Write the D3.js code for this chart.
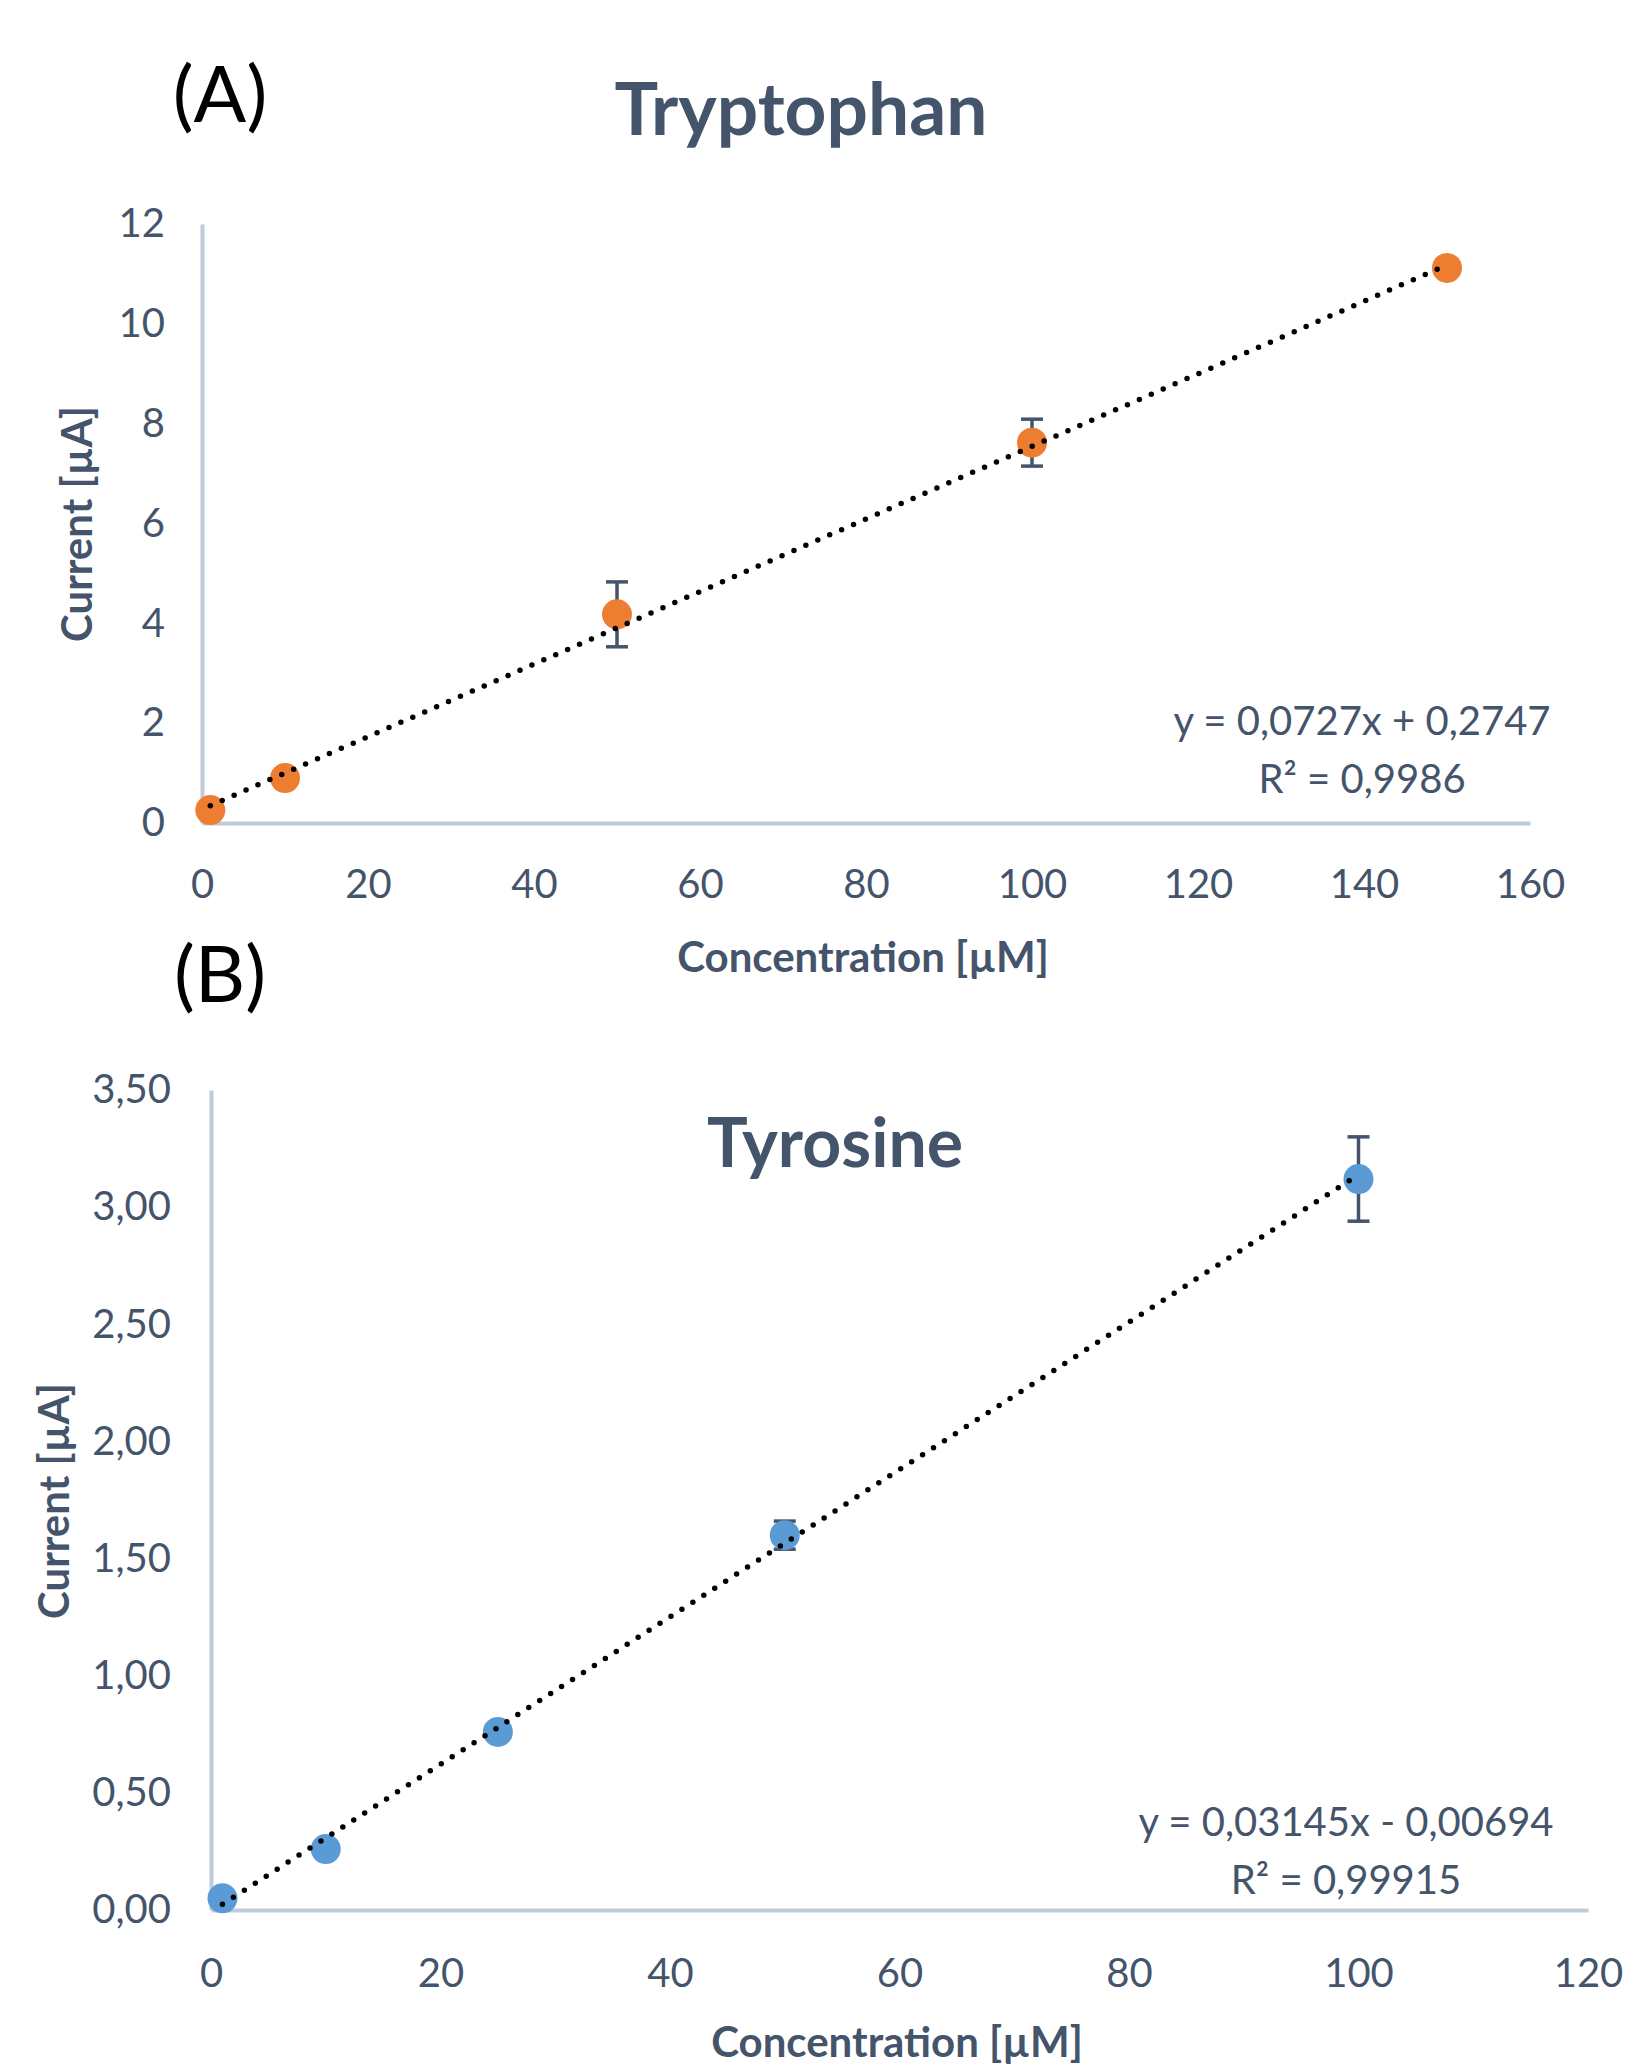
<!DOCTYPE html>
<html>
<head>
<meta charset="utf-8">
<script src="https://cdn.jsdelivr.net/npm/d3@7"></script>
<style>
  body { margin: 0; background: #fff; }
  text { font-family: Lato, "Open Sans", sans-serif; }
</style>
</head>
<body>
<svg id="chart"></svg>
<script>
// Tryptophan (A)
const tryConc = [1, 10, 50, 100, 150];
const tryCurrent = [0.26, 0.9, 4.18, 7.62, 11.12];
const tryError = [0.05, 0.05, 0.65, 0.47, 0.05];
const tryFit = { slope: 0.0727, intercept: 0.2747 };
const tryEqText = ["y = 0,0727x + 0,2747", "R² = 0,9986"];
const tryXTicks = [0, 20, 40, 60, 80, 100, 120, 140, 160];
const tryYTicks = [0, 2, 4, 6, 8, 10, 12];

// Tyrosine (B)
const tyrConc = [1, 10, 25, 50, 100];
const tyrCurrent = [0.05, 0.26, 0.76, 1.6, 3.12];
const tyrError = [0.01, 0.02, 0.03, 0.06, 0.18];
const tyrFit = { slope: 0.03145, intercept: -0.00694 };
const tyrEqText = ["y = 0,03145x - 0,00694", "R² = 0,99915"];
const tyrXTicks = [0, 20, 40, 60, 80, 100, 120];
const tyrYTicks = [0, 0.5, 1, 1.5, 2, 2.5, 3, 3.5];

const width = 1633;
const height = 2065;
const textColor = "#44546A";
const axisColor = "#BFCBDA";

const svg = d3.select("#chart").attr("width", width).attr("height", height);

const drawPanel = (cfg) => {
  const g = svg.append("g");
  const x = d3.scaleLinear().domain(cfg.xDomain).range(cfg.xRange);
  const y = d3.scaleLinear().domain(cfg.yDomain).range(cfg.yRange);

  // axes
  const yAxis = g.append("g")
    .attr("transform", `translate(${cfg.xRange[0]},0)`)
    .call(d3.axisLeft(y).tickValues(cfg.yTicks).tickSize(0).tickSizeOuter(0)
      .tickPadding(cfg.yPad).tickFormat(cfg.yFormat));
  const xAxis = g.append("g")
    .attr("transform", `translate(0,${cfg.yRange[0]})`)
    .call(d3.axisBottom(x).tickValues(cfg.xTicks).tickSize(0).tickSizeOuter(0)
      .tickPadding(cfg.xPad).tickFormat(d3.format("d")));
  [xAxis, yAxis].forEach((a) => {
    a.select(".domain").attr("stroke", axisColor).attr("stroke-width", 4);
    a.selectAll("text").attr("fill", textColor).attr("font-size", 40)
      .style("font-family", "Lato, sans-serif");
  });

  // error bars
  const pts = cfg.conc.map((c, i) => ({ x: c, y: cfg.current[i], e: cfg.error[i] }));
  const eb = g.append("g").attr("stroke", textColor).attr("stroke-width", 3.5);
  pts.forEach((d) => {
    const cx = x(d.x), top = y(d.y + d.e), bot = y(d.y - d.e);
    eb.append("line").attr("x1", cx).attr("x2", cx).attr("y1", top).attr("y2", bot);
    eb.append("line").attr("x1", cx - 11).attr("x2", cx + 11).attr("y1", top).attr("y2", top);
    eb.append("line").attr("x1", cx - 11).attr("x2", cx + 11).attr("y1", bot).attr("y2", bot);
  });

  // markers
  g.selectAll(".pt").data(pts).join("circle")
    .attr("class", "pt")
    .attr("cx", (d) => x(d.x))
    .attr("cy", (d) => y(d.y))
    .attr("r", 15)
    .attr("fill", cfg.color);

  // linear trendline, dotted
  const x0 = d3.min(cfg.conc), x1 = d3.max(cfg.conc);
  const fit = (v) => cfg.fit.slope * v + cfg.fit.intercept;
  g.append("path")
    .attr("d", d3.line()([[x(x0), y(fit(x0))], [x(x1), y(fit(x1))]]))
    .attr("fill", "none")
    .attr("stroke", "#000")
    .attr("stroke-width", 5.5)
    .attr("stroke-linecap", "round")
    .attr("stroke-dasharray", "0 13");

  // equation
  cfg.eqText.forEach((t, i) => {
    g.append("text")
      .attr("x", cfg.eqPos[0])
      .attr("y", cfg.eqPos[1] + i * 58)
      .attr("text-anchor", "middle")
      .attr("font-size", 40)
      .attr("fill", textColor)
      .text(t);
  });

  // title
  g.append("text")
    .attr("x", cfg.titlePos[0]).attr("y", cfg.titlePos[1])
    .attr("text-anchor", "middle")
    .attr("font-size", cfg.titleSize).attr("font-weight", "bold")
    .attr("fill", textColor)
    .text(cfg.title);

  // panel letter
  g.append("text")
    .attr("x", cfg.letterPos[0]).attr("y", cfg.letterPos[1])
    .attr("text-anchor", "middle")
    .attr("font-size", 78)
    .attr("fill", "#000")
    .text(cfg.letter);

  // axis titles
  g.append("text")
    .attr("x", cfg.xLabelPos[0]).attr("y", cfg.xLabelPos[1])
    .attr("text-anchor", "middle")
    .attr("font-size", 42).attr("font-weight", "bold")
    .attr("fill", textColor)
    .text("Concentration [µM]");
  g.append("text")
    .attr("transform", `translate(${cfg.yLabelPos[0]},${cfg.yLabelPos[1]}) rotate(-90)`)
    .attr("text-anchor", "middle")
    .attr("font-size", 42).attr("font-weight", "bold")
    .attr("fill", textColor)
    .text("Current [µA]");
};

drawPanel({
  conc: tryConc, current: tryCurrent, error: tryError, fit: tryFit, eqText: tryEqText,
  xTicks: tryXTicks, yTicks: tryYTicks,
  xDomain: [0, 160], yDomain: [0, 12],
  xRange: [202, 1530], yRange: [823, 224],
  yPad: 37, xPad: 47, yFormat: d3.format("d"),
  color: "#ED7D31",
  eqPos: [1362, 735],
  title: "Tryptophan", titleSize: 73, titlePos: [801, 135],
  letter: "(A)", letterPos: [220, 122],
  xLabelPos: [863, 972], yLabelPos: [92, 524],
});

drawPanel({
  conc: tyrConc, current: tyrCurrent, error: tyrError, fit: tyrFit, eqText: tyrEqText,
  xTicks: tyrXTicks, yTicks: tyrYTicks,
  xDomain: [0, 120], yDomain: [0, 3.5],
  xRange: [211, 1588], yRange: [1910, 1090],
  yPad: 40, xPad: 49, yFormat: (d) => d.toFixed(2).replace(".", ","),
  color: "#5B9BD5",
  eqPos: [1346, 1836],
  title: "Tyrosine", titleSize: 68, titlePos: [835, 1167],
  letter: "(B)", letterPos: [220, 1002],
  xLabelPos: [897, 2057], yLabelPos: [69, 1501],
});
</script>
</body>
</html>
